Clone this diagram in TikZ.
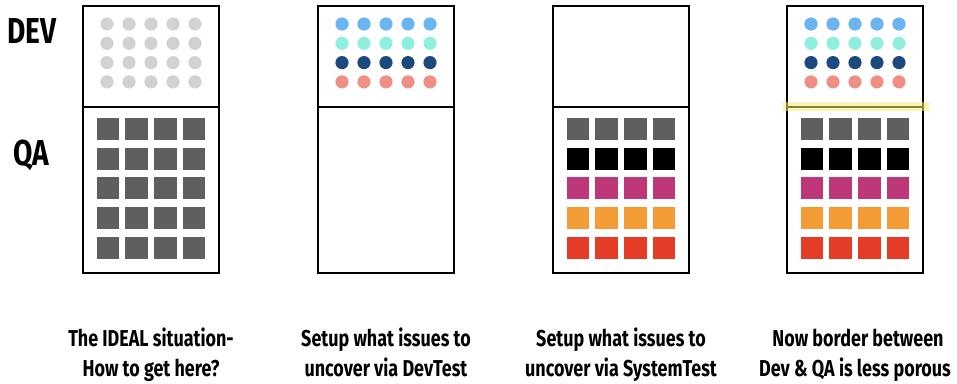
\documentclass[tikz,border=0pt]{standalone}
\usepackage{fontspec}
\setmainfont{Fira Sans}[FakeStretch=0.78]
\definecolor{dotgray}{HTML}{D2D2D2}
\definecolor{sqgray}{HTML}{5F5F5F}
\definecolor{dblue}{HTML}{6AB4F2}
\definecolor{daqua}{HTML}{8EF0DC}
\definecolor{dnavy}{HTML}{1C4A7E}
\definecolor{dsalmon}{HTML}{EE9184}
\definecolor{smag}{HTML}{BE3778}
\definecolor{sorange}{HTML}{F39B35}
\definecolor{sred}{HTML}{E33D27}
\definecolor{glow}{HTML}{F2EE70}
\tikzset{
  panelbox/.style={draw=black, line width=2.9pt},
  rowlabel/.style={font=\bfseries\fontsize{36}{36}\selectfont, anchor=base},
  caption/.style={font=\bfseries\fontsize{23}{27}\selectfont, anchor=base, inner sep=0pt},
}
\newcommand{\dotrows}[5]{% center x, four colours
  \foreach \c [count=\r from 0] in {#2,#3,#4,#5}{
    \foreach \dx in {-44,-22,0,22,44}{
      \fill[\c] (#1+\dx, 24+19.3*\r) circle (6.6);
    }
  }
}
\newcommand{\sqrows}[6]{% center x, five colours
  \foreach \c [count=\r from 0] in {#2,#3,#4,#5,#6}{
    \foreach \dx in {-43.05,-14.35,14.35,43.05}{
      \fill[\c] (#1+\dx-11.2, 129+29.7*\r-11) rectangle ++(22.4,22);
    }
  }
}
\begin{document}
\begin{tikzpicture}[x=1pt,y=-1pt]
\useasboundingbox (0,0) rectangle (957,383);
% row labels
\node[rowlabel] (dev) at (32,43) {DEV};
\node[rowlabel] (qa) at (31,165) {QA};
% panels
\foreach \L [count=\i] in {83,318,553,787}{
  \draw[panelbox] (\L,6) rectangle (\L+136,273);
  \draw[panelbox] (\L,107) -- (\L+136,107);
}
% panel 1
\dotrows{151}{dotgray}{dotgray}{dotgray}{dotgray}
\sqrows{151}{sqgray}{sqgray}{sqgray}{sqgray}{sqgray}
% panel 2
\dotrows{386}{dblue}{daqua}{dnavy}{dsalmon}
% panel 3
\sqrows{621}{sqgray}{black}{smag}{sorange}{sred}
% panel 4
\dotrows{855}{dblue}{daqua}{dnavy}{dsalmon}
\sqrows{855}{sqgray}{black}{smag}{sorange}{sred}
\draw[glow, line width=9pt, opacity=0.55] (783,106) -- (929,106);
% captions
\node[caption] (c1a) at (151,346) {The IDEAL situation-};
\node[caption] (c1b) at (151,376) {How to get here?};
\node[caption] (c2a) at (386,346) {Setup what issues to};
\node[caption] (c2b) at (386,376) {uncover via DevTest};
\node[caption] (c3a) at (621,346) {Setup what issues to};
\node[caption] (c3b) at (621,376) {uncover via SystemTest};
\node[caption] (c4a) at (858,346) {Now border between};
\node[caption] (c4b) at (855,376) {Dev \& QA is less porous};
\end{tikzpicture}
\end{document}
